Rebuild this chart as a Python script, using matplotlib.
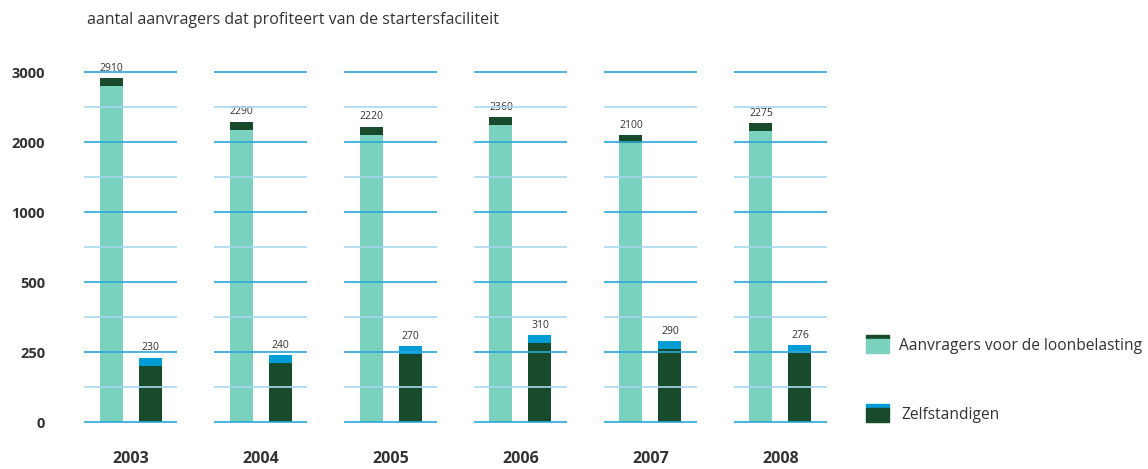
import numpy as np
import matplotlib
matplotlib.use("Agg")
import matplotlib.pyplot as plt
from matplotlib.patches import Rectangle

# data
years = ["2003", "2004", "2005", "2006", "2007", "2008"]
loonbelasting = [2910, 2290, 2220, 2360, 2100, 2275]
zelfstandigen = [230, 240, 270, 310, 290, 276]
tick_values = [0, 250, 500, 1000, 2000, 3000]
tick_labels = ["0", "250", "500", "1000", "2000", "3000"]

# colours
LIGHT = "#7ad1bd"
DARK = "#184b2b"
BLUE = "#009cd6"
GRID = "#2aa8d8"
GRID_MINOR = "#a6d8ee"
TEXT = "#333333"

plt.rcParams['font.family'] = ['Open Sans', 'DejaVu Sans']

# piecewise axis: every tick step gets the same height
def scale(v):
    return np.interp(v, tick_values, np.arange(len(tick_values)))

W, H = 1148, 469
fig = plt.figure(figsize=(W / 100, H / 100), dpi=100)
ax = fig.add_axes([84 / W, (H - 436) / H, 743 / W, 385 / H])

x = np.arange(len(years))
bw = 0.177
off = 0.15
cap = 0.115

top1 = scale(loonbelasting)
top2 = scale(zelfstandigen)
ax.bar(x - off, top1 - cap, bw, color=LIGHT, zorder=2)
ax.bar(x - off, cap, bw, bottom=top1 - cap, color=DARK, zorder=2)
ax.bar(x + off, top2 - cap, bw, color=DARK, zorder=2)
ax.bar(x + off, cap, bw, bottom=top2 - cap, color=BLUE, zorder=2)

for i in x:
    ax.text(i - off, top1[i] + 0.06, str(loonbelasting[i]), ha="center", va="bottom",
            fontsize=7.5, color=TEXT)
    ax.text(i + off, top2[i] + 0.06, str(zelfstandigen[i]), ha="center", va="bottom",
            fontsize=7.5, color=TEXT)

# grid segments per year
half = 0.358
for i in x:
    for k in range(len(tick_values)):
        ax.hlines(k, i - half, i + half, color=GRID, lw=1.4, alpha=0.85, zorder=3)
        if k < len(tick_values) - 1:
            ax.hlines(k + 0.5, i - half, i + half, color=GRID_MINOR, lw=1.4, alpha=0.85, zorder=3)

ax.set_xlim(-0.5 + 0.142, len(years) - 1 + half)
ax.set_ylim(-0.2, 5.3)
ax.set_yticks(range(len(tick_values)), tick_labels, fontsize=10.5, fontweight="bold", color=TEXT)
ax.set_xticks(x, years, fontsize=11.5, fontweight="bold", color=TEXT)
ax.tick_params(axis="y", length=0, pad=28)
ax.tick_params(axis="x", length=0, pad=11)
for s in ax.spines.values():
    s.set_visible(False)

fig.text(87 / W, 1 - 20 / H, "aantal aanvragers dat profiteert van de startersfaciliteit",
         fontsize=11.5, color=TEXT, va="center")

# legend
def legend_item(y_top, top_col, body_col, label, tx):
    fig.add_artist(Rectangle((866 / W, 1 - (y_top + 4) / H), 23 / W, 4 / H,
                             transform=fig.transFigure, color=top_col))
    fig.add_artist(Rectangle((866 / W, 1 - (y_top + 18) / H), 23 / W, 14 / H,
                             transform=fig.transFigure, color=body_col))
    fig.text(tx / W, 1 - (y_top + 11) / H, label, fontsize=11.2, color=TEXT, va="center")

legend_item(335, DARK, LIGHT, "Aanvragers voor de loonbelasting", 899)
legend_item(404, BLUE, DARK, "Zelfstandigen", 901)

fig.savefig("out.png", dpi=100)
